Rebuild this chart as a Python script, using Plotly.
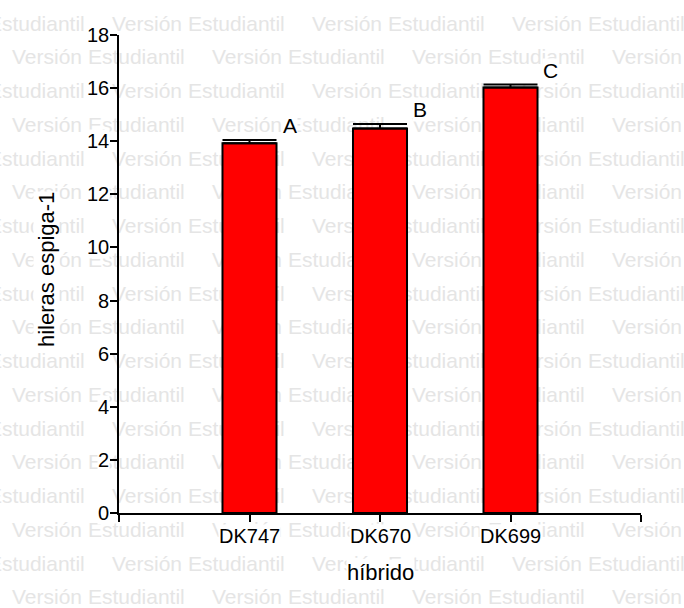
import plotly.graph_objects as go

# ---- data ----
hybrids = ["DK747", "DK670", "DK699"]
positions = [1, 2, 3]
means = [13.92, 14.48, 16.02]
errors = [0.13, 0.17, 0.12]
letters = ["A", "B", "C"]
y_ticks = [0, 2, 4, 6, 8, 10, 12, 14, 16, 18]
x_tick_positions = [0, 1, 2, 3, 4]
x_tick_labels = ["", "DK747", "DK670", "DK699", ""]
watermark_text = "Versión Estudiantil"

W, H = 684, 608
FONT = "Liberation Sans, Arial, sans-serif"

# ---- watermark: paper shapes below the plot, each carrying a text label ----
shapes = []
for k in range(18):
    yy = 21 + 33.75 * k                      # row centre, px from top
    starts = [-91, 109, 309, 509] if k % 2 == 0 else [9, 209, 409, 609]
    for xx in starts:
        shapes.append(dict(
            type="rect", xref="paper", yref="paper", layer="below",
            x0=xx / W, x1=(xx + 180) / W,
            y0=1 - (yy + 12) / H, y1=1 - (yy - 12) / H,
            line=dict(width=0, color="rgba(0,0,0,0)"), fillcolor="rgba(0,0,0,0)",
            label=dict(text=watermark_text, textposition="middle left", padding=0,
                       font=dict(family=FONT, size=21, color="rgb(229,229,229)"))))

fig = go.Figure()
fig.add_trace(go.Bar(
    x=positions, y=means, width=0.414,
    marker=dict(color="#ff0000", line=dict(color="black", width=2)),
    error_y=dict(type="data", array=errors, arrayminus=[0] * len(errors),
                 symmetric=False, color="black", thickness=2, width=27),
    showlegend=False, hoverinfo="skip"))

annotations = []
for v in y_ticks:
    annotations.append(dict(x=0, xref="x domain", y=v, yref="y", text=str(v),
                            xanchor="right", yanchor="middle", xshift=-9,
                            showarrow=False, bgcolor="white", borderpad=0,
                            font=dict(family=FONT, size=20, color="black")))
for p, lbl in zip(x_tick_positions, x_tick_labels):
    if lbl:
        annotations.append(dict(x=p, xref="x", y=0, yref="y domain", text=lbl,
                                xanchor="center", yanchor="top", yshift=-11,
                                showarrow=False, bgcolor="white", borderpad=0,
                                font=dict(family=FONT, size=20, color="black")))
for p, m, e, L in zip(positions, means, errors, letters):
    annotations.append(dict(x=p, xref="x", y=m + e, yref="y", text=L,
                            xanchor="center", yanchor="middle", xshift=40, yshift=14,
                            showarrow=False, bgcolor="white", borderpad=0,
                            font=dict(family=FONT, size=21, color="black")))
annotations.append(dict(x=0.5, xref="x domain", y=1 - 572 / H, yref="paper",
                        text="híbrido", xanchor="center", yanchor="middle",
                        showarrow=False, bgcolor="white", borderpad=0,
                        font=dict(family=FONT, size=22, color="black")))
annotations.append(dict(x=46 / W, xref="paper", y=1 - 270 / H, yref="paper",
                        text="hileras espiga-1", textangle=-90,
                        xanchor="center", yanchor="middle",
                        showarrow=False, bgcolor="white", borderpad=0,
                        font=dict(family=FONT, size=22, color="black")))

fig.update_layout(
    width=W, height=H, autosize=False,
    margin=dict(l=0, r=0, t=0, b=0, pad=0),
    paper_bgcolor="white", plot_bgcolor="rgba(0,0,0,0)",
    xaxis=dict(domain=[119 / W, 641 / W], range=[0, 4],
               tickmode="array", tickvals=x_tick_positions, showticklabels=False,
               ticks="outside", ticklen=7, tickwidth=2, tickcolor="black",
               showline=True, linewidth=2, linecolor="black",
               showgrid=False, zeroline=False, fixedrange=True),
    yaxis=dict(domain=[95 / H, 573 / H], range=[0, 18],
               tickmode="array", tickvals=y_ticks, showticklabels=False,
               ticks="outside", ticklen=7, tickwidth=2, tickcolor="black",
               showline=True, linewidth=2, linecolor="black",
               showgrid=False, zeroline=False, fixedrange=True),
    shapes=shapes,
    annotations=annotations,
    showlegend=False,
)

fig.write_html("out.html")
